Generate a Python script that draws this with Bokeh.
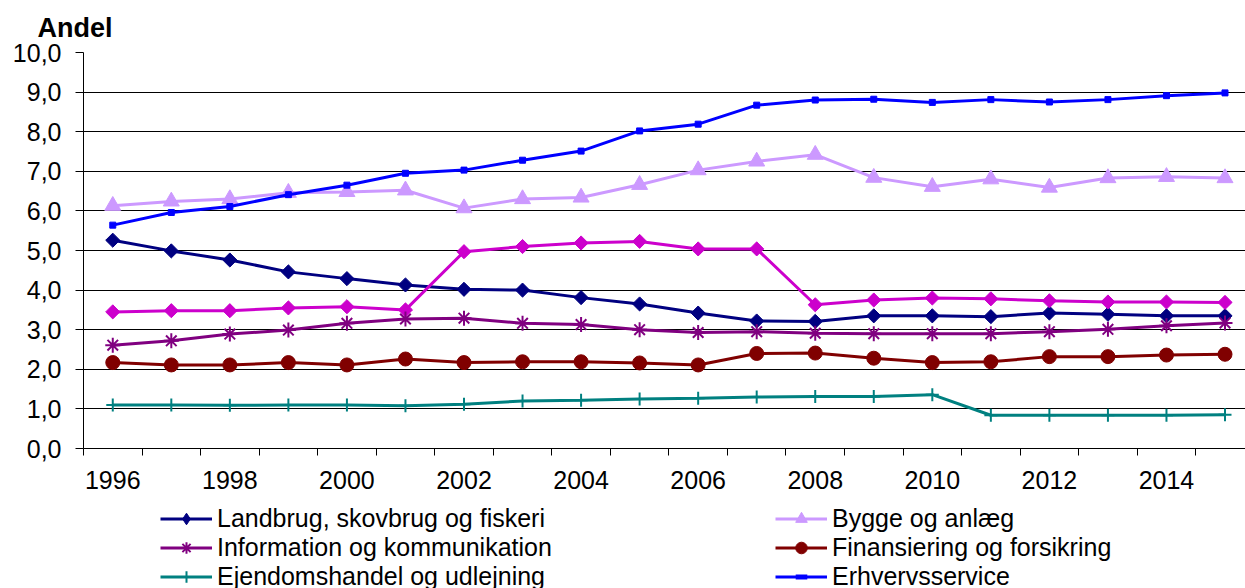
import math
from bokeh.plotting import figure
from bokeh.layouts import column
from bokeh.models import Range1d, FixedTicker, Legend, LegendItem
from bokeh.embed import file_html
from bokeh.resources import INLINE

years = list(range(1996, 2016))
landbrug = [5.26, 4.99, 4.76, 4.46, 4.29, 4.13, 4.02, 4.00, 3.81, 3.65, 3.42, 3.22, 3.21, 3.35, 3.35, 3.33, 3.42, 3.39, 3.35, 3.35]
unlabeled = [3.45, 3.48, 3.48, 3.55, 3.58, 3.50, 4.97, 5.10, 5.19, 5.23, 5.04, 5.04, 3.63, 3.75, 3.80, 3.78, 3.73, 3.70, 3.70, 3.69]
information = [2.61, 2.72, 2.89, 2.99, 3.16, 3.27, 3.29, 3.16, 3.13, 3.00, 2.93, 2.95, 2.91, 2.90, 2.90, 2.90, 2.95, 3.01, 3.10, 3.17]
finans = [2.17, 2.11, 2.11, 2.17, 2.11, 2.26, 2.17, 2.19, 2.19, 2.16, 2.11, 2.40, 2.41, 2.28, 2.17, 2.19, 2.32, 2.32, 2.36, 2.38]
ejendom = [1.10, 1.10, 1.09, 1.10, 1.10, 1.08, 1.12, 1.20, 1.22, 1.25, 1.27, 1.30, 1.31, 1.31, 1.36, 0.84, 0.84, 0.84, 0.84, 0.85]
bygge = [6.13, 6.24, 6.30, 6.46, 6.48, 6.52, 6.07, 6.30, 6.34, 6.66, 7.03, 7.25, 7.42, 6.84, 6.61, 6.80, 6.59, 6.83, 6.86, 6.83]
erhverv = [5.64, 5.96, 6.11, 6.41, 6.65, 6.95, 7.03, 7.28, 7.51, 8.02, 8.19, 8.67, 8.80, 8.82, 8.74, 8.81, 8.75, 8.81, 8.91, 8.98]

y_ticks = [0, 1, 2, 3, 4, 5, 6, 7, 8, 9, 10]
x_label_years = [1996, 1998, 2000, 2002, 2004, 2006, 2008, 2010, 2012, 2014]

FONT = "Liberation Sans"

p = figure(width=1245, height=503,
           x_range=Range1d(1995.5, 2015.35), y_range=Range1d(0, 10),
           output_backend="svg", toolbar_location=None,
           min_border_left=83, min_border_right=0, min_border_top=52, min_border_bottom=55)
p.outline_line_color = None
p.background_fill_color = "white"

p.title.text = "Andel"
p.title.text_font = FONT
p.title.text_font_style = "bold"
p.title.text_font_size = "27px"
p.title.text_color = "black"
p.title.align = "left"
p.title.offset = -46
p.title.standoff = 20

# y axis
p.yaxis.ticker = FixedTicker(ticks=y_ticks)
p.yaxis.major_label_overrides = {t: f"{t:.1f}".replace(".", ",") for t in y_ticks}
p.yaxis.major_label_text_font = FONT
p.yaxis.major_label_text_font_size = "25px"
p.yaxis.major_label_text_color = "black"
p.yaxis.major_tick_out = 8
p.yaxis.major_tick_in = 0
p.yaxis.minor_tick_out = 0
p.yaxis.minor_tick_in = 0
p.yaxis.major_label_standoff = 14
p.yaxis.axis_line_color = "black"
p.yaxis.major_tick_line_color = "black"

# x axis
p.xaxis.ticker = FixedTicker(ticks=x_label_years, minor_ticks=[1995.5 + i for i in range(21)])
p.xaxis.major_label_text_font = FONT
p.xaxis.major_label_text_font_size = "25px"
p.xaxis.major_label_text_color = "black"
p.xaxis.major_tick_out = 0
p.xaxis.major_tick_in = 0
p.xaxis.minor_tick_out = 7
p.xaxis.minor_tick_in = 0
p.xaxis.minor_tick_line_color = "black"
p.xaxis.major_label_standoff = 15
p.xaxis.axis_line_color = "black"

p.xgrid.visible = False
p.ygrid.grid_line_color = "black"
p.ygrid.grid_line_width = 1

# (label, values, colour, chart marker, legend marker)
series = [
    ("Landbrug, skovbrug og fiskeri", landbrug, "#000080",
     dict(marker="square", size=10, angle=math.pi / 4), dict(marker="diamond")),
    (None, unlabeled, "#CC00CC",
     dict(marker="square", size=10, angle=math.pi / 4), None),
    ("Information og kommunikation", information, "#800080",
     dict(marker="asterisk", size=15, line_width=2), dict(marker="asterisk", line_width=2)),
    ("Finansiering og forsikring", finans, "#800000",
     dict(marker="circle", size=14), dict(marker="circle")),
    ("Ejendomshandel og udlejning", ejendom, "#008080",
     dict(marker="cross", size=13, line_width=2), dict(marker="cross", line_width=2)),
    ("Bygge og anlæg", bygge, "#CC99FF",
     dict(marker="triangle", size=16), dict(marker="triangle")),
    ("Erhvervsservice", erhverv, "#0000FF",
     dict(marker="square", size=6), dict(marker="dash", line_width=5)),
]

# legend lives in a small strip figure below the chart (its ranges hide the data)
p2 = figure(width=1245, height=85, x_range=Range1d(0, 1), y_range=Range1d(-2, -1),
            output_backend="svg", toolbar_location=None,
            min_border_left=0, min_border_right=0, min_border_top=0, min_border_bottom=0)
p2.axis.visible = False
p2.grid.visible = False
p2.outline_line_color = None

items = {}
for label, vals, color, mk, lmk in series:
    p.line(years, vals, line_color=color, line_width=3)
    p.scatter(years, vals, fill_color=color, line_color=color, **mk)
    if label:
        lr = p2.line(years, vals, line_color=color, line_width=3)
        sr = p2.scatter(years, vals, fill_color=color, line_color=color, **lmk)
        items[label] = LegendItem(label=label, renderers=[lr, sr])

order = ["Landbrug, skovbrug og fiskeri", "Information og kommunikation", "Ejendomshandel og udlejning",
         "Bygge og anlæg", "Finansiering og forsikring", "Erhvervsservice"]
legend = Legend(items=[items[k] for k in order], ncols=2, orientation="vertical",
                location=(77, -3))
legend.label_text_font = FONT
legend.label_text_font_size = "25px"
legend.label_text_color = "black"
legend.glyph_width = 52
legend.glyph_height = 29
legend.label_height = 29
legend.label_standoff = 5
legend.label_width = 558
legend.spacing = 0
legend.padding = 0
legend.margin = 0
legend.border_line_color = None
legend.background_fill_alpha = 0
p2.add_layout(legend, "center")

layout = column(p, p2, spacing=0)
open("out.html", "w").write(file_html(layout, INLINE))
